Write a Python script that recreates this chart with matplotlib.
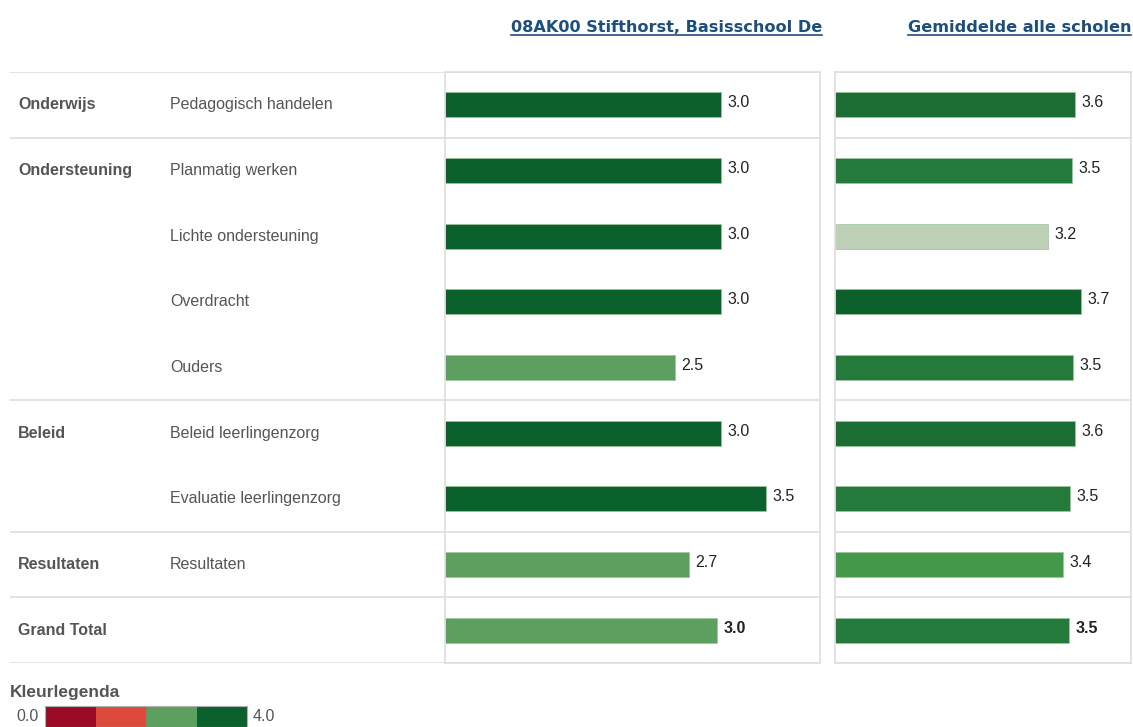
import matplotlib.pyplot as plt

plt.rcParams['font.family'] = ['Liberation Sans', 'DejaVu Sans']

# rows of the table
groups = ["Onderwijs", "Ondersteuning", "", "", "", "Beleid", "", "Resultaten", "Grand Total"]
items = ["Pedagogisch handelen", "Planmatig werken", "Lichte ondersteuning", "Overdracht",
         "Ouders", "Beleid leerlingenzorg", "Evaluatie leerlingenzorg", "Resultaten", ""]
school = [3.0, 3.0, 3.0, 3.0, 2.5, 3.0, 3.49, 2.65, 2.96]
school_labels = ["3.0", "3.0", "3.0", "3.0", "2.5", "3.0", "3.5", "2.7", "3.0"]
average = [3.61, 3.56, 3.20, 3.70, 3.58, 3.61, 3.53, 3.43, 3.52]
average_labels = ["3.6", "3.5", "3.2", "3.7", "3.5", "3.6", "3.5", "3.4", "3.5"]
group_breaks = [0, 1, 5, 7, 8, 9]  # row indices where a group line is drawn

legend_edges = [0.0, 1.0, 2.0, 3.0]
legend_colors = ["#9a0a25", "#dc4a3e", "#5c9f5e", "#0b612b"]

school_colors = ["#0b612b"] * 4 + ["#5c9f5e", "#0b612b", "#0b612b", "#5c9f5e", "#5c9f5e"]
average_colors = ["#1c6d33", "#237a3b", "#bdcfb6", "#0b602b", "#237a3b",
                  "#1c6d33", "#237a3b", "#45994b", "#237a3b"]

W, H = 1133, 727
fig = plt.figure(figsize=(W / 100, H / 100), dpi=100)
grid = "#dedede"
txt = "#555555"
fs = 11.5


def px_axes(x0, x1, y0, y1):
    return fig.add_axes([x0 / W, 1 - y1 / H, (x1 - x0) / W, (y1 - y0) / H])


n = len(items)
top, bottom = 72, 663

# label area (no data scale, just rows)
lab = px_axes(10, 445, top, bottom)
lab.set_xlim(0, 1)
lab.set_ylim(n - 0.5, -0.5)
lab.axis("off")
for i in range(n):
    if groups[i]:
        lab.text(8 / 435, i, groups[i], va="center", ha="left", fontsize=fs,
                 fontweight="bold", color=txt)
    if items[i]:
        lab.text(160 / 435, i, items[i], va="center", ha="left", fontsize=fs, color=txt)
for b in group_breaks:
    lab.axhline(b - 0.5, color=grid, lw=1.2)


def panel(ax, vals, labels, colors, xmax):
    ax.barh(range(n), vals, height=0.38, color=colors, edgecolor="#9cc79c", linewidth=0.5)
    ax.set_xlim(0, xmax)
    ax.set_ylim(n - 0.5, -0.5)
    ax.set_xticks([])
    ax.set_yticks([])
    for s in ax.spines.values():
        s.set_color(grid)
        s.set_linewidth(1.2)
    for b in group_breaks:
        ax.axhline(b - 0.5, color=grid, lw=1.2)
    for i, (v, t) in enumerate(zip(vals, labels)):
        ax.annotate(t, (v, i), xytext=(4.5, 1.5), textcoords="offset points",
                    va="center", ha="left", fontsize=fs, color="#222222",
                    fontweight="bold" if i == n - 1 else "normal")


ax1 = px_axes(445, 820, top, bottom)
panel(ax1, school, school_labels, school_colors, 375 / 92)

ax2 = px_axes(835, 1131, top, bottom)
panel(ax2, average, average_labels, average_colors, 296 / 66.5)

# headers, underlined
hdr_color = "#1d4f7a"
hfont = ["DejaVu Sans Condensed", "DejaVu Sans"]
h1 = fig.text(822 / W, 1 - 27 / H, "08AK00 Stifthorst, Basisschool De", ha="right",
              va="center", fontsize=11.6, fontweight="bold", color=hdr_color, family=hfont)
h2 = fig.text(1131 / W, 1 - 27 / H, "Gemiddelde alle scholen", ha="right",
              va="center", fontsize=11.6, fontweight="bold", color=hdr_color, family=hfont)
fig.canvas.draw()
r = fig.canvas.get_renderer()
for h in (h1, h2):
    bb = h.get_window_extent(r).transformed(fig.transFigure.inverted())
    fig.add_artist(plt.Line2D([bb.x0, bb.x1], [bb.y0 - 0.001, bb.y0 - 0.001],
                              color=hdr_color, lw=1.2, transform=fig.transFigure))

# colour legend
fig.text(10 / W, 1 - 692 / H, "Kleurlegenda", ha="left", va="center", fontsize=12.5,
         fontweight="bold", color=txt)
leg = px_axes(45, 247, 706, 727)
leg.barh([0] * len(legend_edges), [1] * len(legend_edges), left=legend_edges,
         height=1.0, color=legend_colors)
leg.set_xlim(0, 4)
leg.set_ylim(-0.5, 0.5)
leg.set_xticks([])
leg.set_yticks([])
for s in leg.spines.values():
    s.set_color("#b0b0b0")
leg.text(-0.12, 0.0, "0.0", ha="right", va="center", fontsize=fs, color=txt)
leg.text(4.12, 0.0, "4.0", ha="left", va="center", fontsize=fs, color=txt)

fig.savefig("out.png", dpi=100)
